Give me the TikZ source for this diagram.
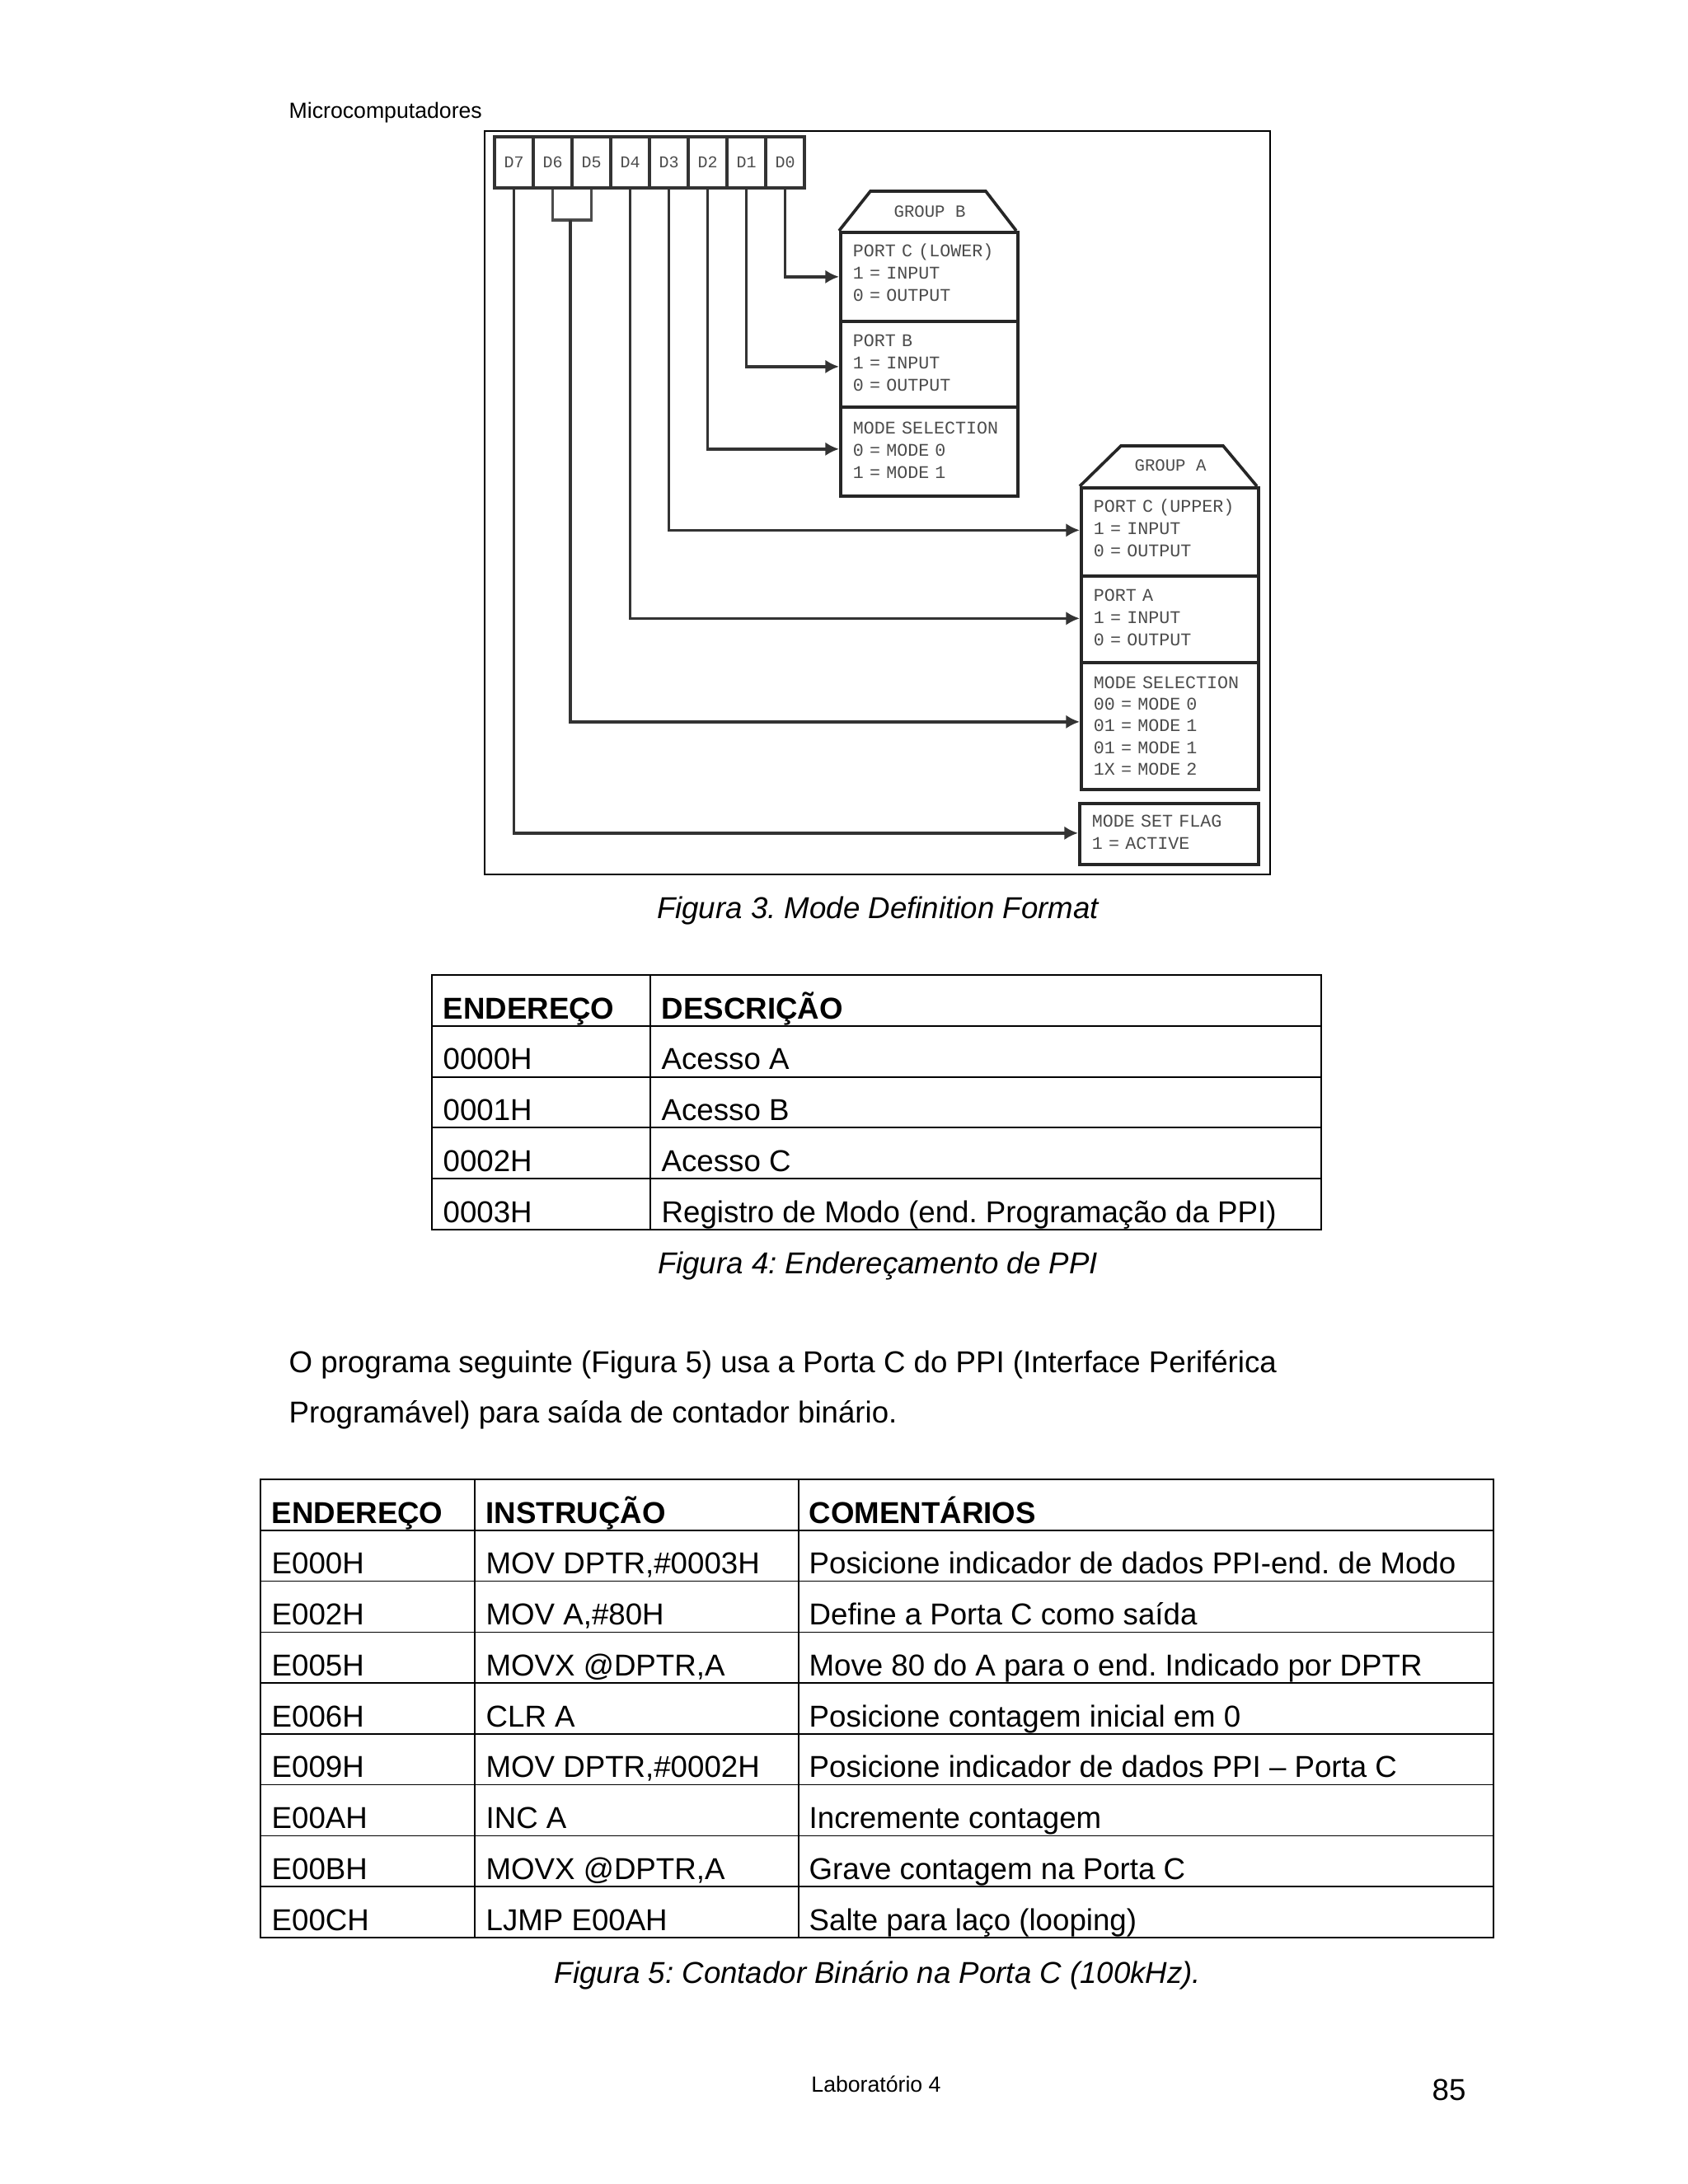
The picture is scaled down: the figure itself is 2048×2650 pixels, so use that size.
\documentclass[tikz,border=0pt]{standalone}
\usepackage{fontspec}
\setmainfont{Liberation Sans}
\setmonofont{Liberation Mono}
\usepackage{tikz}
\usetikzlibrary{arrows.meta,positioning,calc}

\newcommand{\lastpad}[1]{\rule[-#1]{0pt}{0pt}}

\begin{document}
\frenchspacing
\begin{tikzpicture}[
  x=0.3pt, y=-0.3pt,
  bitcell/.style={rectangle, draw=black!80, line width=1.1pt, minimum width=14.1pt, minimum height=18.6pt, inner sep=0pt, font=\fontsize{6}{6}\selectfont\ttfamily, text=black!70},
  section/.style={rectangle, draw=black!85, line width=1.1pt, anchor=north west, inner xsep=4.5pt, inner ysep=0pt, align=left, font=\fontsize{6.5}{8.1}\selectfont\ttfamily, text=black!70},
  grouptitle/.style={inner sep=0pt, font=\fontsize{6.2}{7}\selectfont\ttfamily, text=black!70},
  conn/.style={-{Latex[length=5pt,width=5pt]}, line width=1pt, black!80},
  wire/.style={line width=1pt, black!70},
  cell/.style={anchor=base west, inner sep=0pt, font=\fontsize{11}{13}\selectfont},
  head/.style={cell, font=\fontsize{11}{13}\selectfont\bfseries},
  caption/.style={anchor=base, inner sep=0pt, font=\fontsize{11}{13}\selectfont\itshape},
  rule/.style={line width=0.45pt, black},
  >=Latex
]
  \useasboundingbox[fill=white] (0,0) rectangle (2048,2650);

  % Page header and footer
  \node[anchor=base west, inner sep=0pt, font=\fontsize{8}{10}\selectfont] (header) at (350,143) {Microcomputadores};
  \node[anchor=base, inner sep=0pt, font=\fontsize{8}{10}\selectfont] (footer) at (1063,2538) {Laboratório 4};
  \node[anchor=base, inner sep=0pt, font=\fontsize{11}{13}\selectfont] (pagenum) at (1758,2548) {85};

  % Figure frame
  \node[rectangle, draw=black, line width=0.5pt, anchor=north west, minimum width=953*0.3pt, minimum height=902*0.3pt, inner sep=0pt] (frame) at (587,158) {};

  % Control word bits
  \foreach \b [count=\i from 0] in {7,6,5,4,3,2,1,0}
    \node[bitcell] (d\b) at ({623.5+47*\i},197) {D\b};

  % Group B
  \draw[line width=1.1pt, black!85] (1018,280) -- (1056,232) -- (1196,232) -- (1233,280);
  \node[grouptitle] (gbtitle) at (1128,257) {GROUP B};
  \node[section, text width=215*0.3pt-9pt, minimum height=108*0.3pt] (gbportc) at (1018,280) {PORT C (LOWER)\\1 = INPUT\\0 = OUTPUT\lastpad{3pt}};
  \node[section, text width=215*0.3pt-9pt, minimum height=104*0.3pt] (gbportb) at (1018,388) {PORT B\\1 = INPUT\\0 = OUTPUT\lastpad{1pt}};
  \node[section, text width=215*0.3pt-9pt, minimum height=108*0.3pt] (gbmode) at (1018,492) {MODE SELECTION\\0 = MODE 0\\1 = MODE 1\lastpad{1pt}};

  % Group A
  \draw[line width=1.1pt, black!85] (1310,590) -- (1360,541) -- (1484,541) -- (1525,590);
  \node[grouptitle] (gatitle) at (1420,565) {GROUP A};
  \node[section, text width=215*0.3pt-9pt, minimum height=107*0.3pt] (gaportc) at (1310,590) {PORT C (UPPER)\\1 = INPUT\\0 = OUTPUT\lastpad{3pt}};
  \node[section, text width=215*0.3pt-9pt, minimum height=105*0.3pt] (gaporta) at (1310,697) {PORT A\\1 = INPUT\\0 = OUTPUT\lastpad{1.5pt}};
  \node[section, text width=215*0.3pt-9pt, minimum height=154*0.3pt, font=\fontsize{6.5}{7.9}\selectfont\ttfamily] (gamode) at (1310,802) {MODE SELECTION\\00 = MODE 0\\01 = MODE 1\\01 = MODE 1\\1X = MODE 2};
  \node[section, text width=217*0.3pt-9pt, minimum height=74*0.3pt] (modeflag) at (1308,973) {MODE SET FLAG\\1 = ACTIVE\lastpad{1pt}};

  % Bit connections
  \draw[conn] (d0.south) |- (gbportc.west);
  \draw[conn] (d1.south) |- ($(gbportb.west)+(0,3)$);
  \draw[conn] (d2.south) |- ($(gbmode.west)+(0,-3)$);
  \draw[conn] (d3.south) |- ($(gaportc.west)+(0,-2)$);
  \draw[conn] (d4.south) |- ($(gaporta.west)+(0,-1)$);
  \draw[conn] (d7.south) |- ($(modeflag.west)+(0,-1)$);

  % D6 and D5 share one line
  \coordinate (join) at ($(d6.south)!0.5!(d5.south)+(-2,37)$);
  \draw[wire] (d6.south) |- (join) -| (d5.south);
  \draw[conn] (join) |- ($(gamode.west)+(0,-5)$);

  % Captions and paragraph
  \node[caption] (cap3) at (1065,1114) {Figura 3. Mode Definition Format};
  \node[caption] (cap4) at (1065,1545) {Figura 4: Endereçamento de PPI};
  \node[caption] (cap5) at (1065,2406) {Figura 5: Contador Binário na Porta C (100kHz).};
  \node[cell] (para1) at (350,1665) {O programa seguinte (Figura 5) usa a Porta C do PPI (Interface Periférica};
  \node[cell] (para2) at (350,1726) {Programável) para saída de contador binário.};

  % Address table
  \draw[rule] (524,1183) rectangle (1603,1492);
  \draw[rule] (789,1183) -- (789,1492);
  \foreach \y in {1245,1307,1368,1430}
    \draw[rule] (524,\y) -- (1603,\y);
  \node[head] (tahead) at (537,1236) {ENDEREÇO};
  \node[head] (tbhead) at (802,1236) {DESCRIÇÃO};
  \foreach \addr/\desc [count=\i] in {
    0000H/Acesso A,
    0001H/Acesso B,
    0002H/Acesso C,
    0003H/{Registro de Modo (end. Programação da PPI)}}
  {
    \node[cell] (ta\i) at (537,{1236+61.8*\i}) {\addr};
    \node[cell] (tb\i) at (802,{1236+61.8*\i}) {\desc};
  }

  % Program table
  \draw[rule] (316,1795) rectangle (1812,2351);
  \draw[rule] (576,1795) -- (576,2351);
  \draw[rule] (969,1795) -- (969,2351);
  \foreach \i in {1,...,8}
    \draw[rule] (316,{1795+61.75*\i}) -- (1812,{1795+61.75*\i});
  \node[head] (pahead) at (329,1848) {ENDEREÇO};
  \node[head] (pbhead) at (589,1848) {INSTRUÇÃO};
  \node[head] (pchead) at (981,1848) {COMENTÁRIOS};
  \foreach \addr/\inst/\note [count=\i] in {
    E000H/{MOV DPTR,\#0003H}/{Posicione indicador de dados PPI-end. de Modo},
    E002H/{MOV A,\#80H}/{Define a Porta C como saída},
    E005H/{MOVX @DPTR,A}/{Move 80 do A para o end. Indicado por DPTR},
    E006H/{CLR A}/{Posicione contagem inicial em 0},
    E009H/{MOV DPTR,\#0002H}/{Posicione indicador de dados PPI – Porta C},
    E00AH/{INC A}/{Incremente contagem},
    E00BH/{MOVX @DPTR,A}/{Grave contagem na Porta C},
    E00CH/{LJMP E00AH}/{Salte para laço (looping)}}
  {
    \node[cell] (pa\i) at (329,{1848+61.75*\i}) {\addr};
    \node[cell] (pb\i) at (589,{1848+61.75*\i}) {\inst};
    \node[cell] (pc\i) at (981,{1848+61.75*\i}) {\note};
  }
\end{tikzpicture}
\end{document}
